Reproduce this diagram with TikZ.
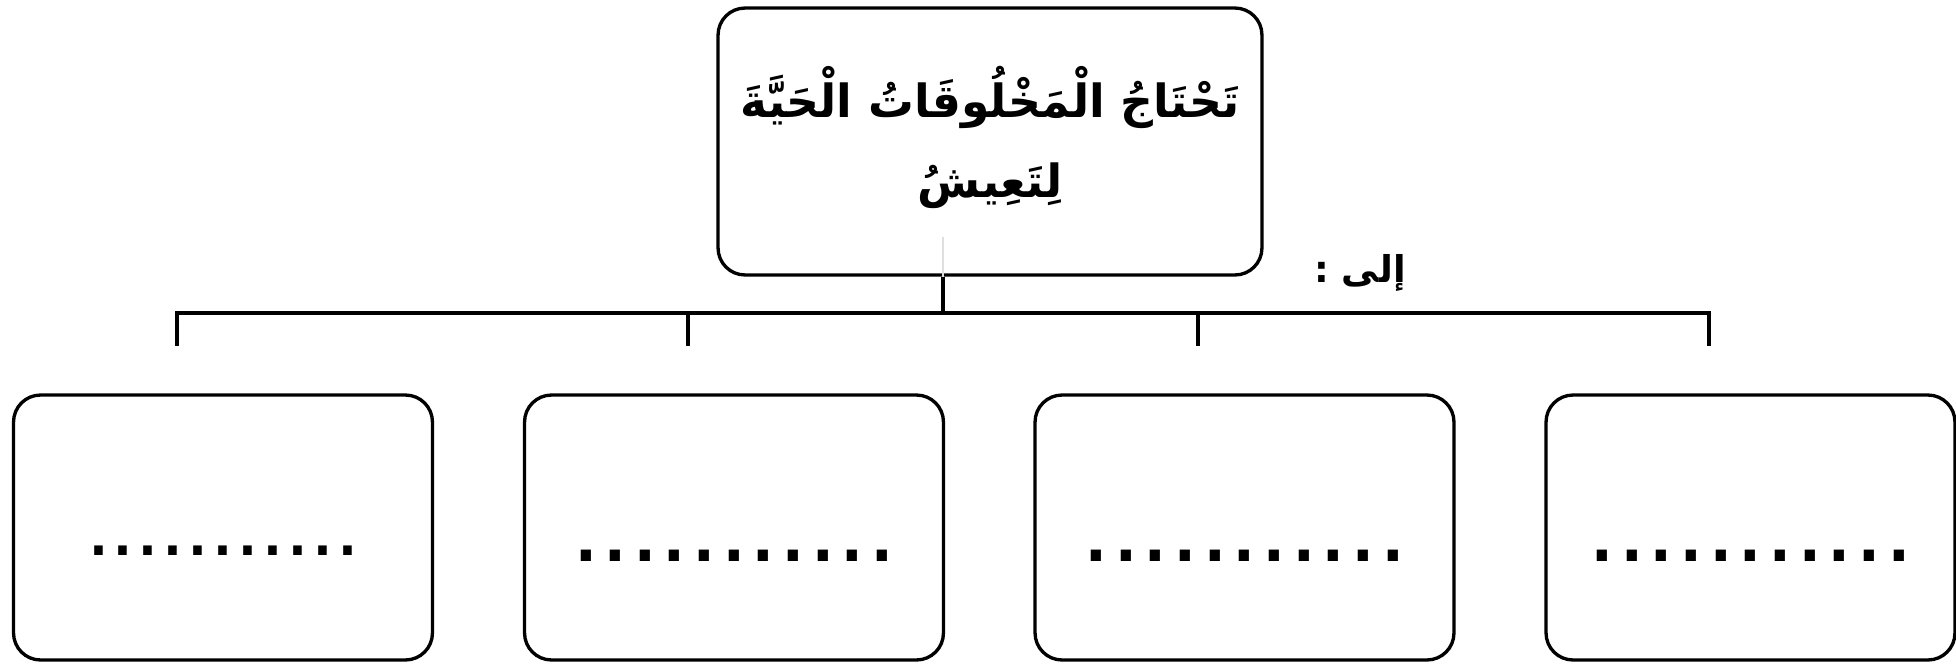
\documentclass[tikz,border=0pt]{standalone}
\usepackage{fontspec}
\setmainfont{Liberation Sans}
\newfontfamily\arabicfont[Script=Arabic]{DejaVu Sans}
\TeXXeTstate=1
\usetikzlibrary{positioning,calc}
\tikzset{box/.style={draw,line width=1.9pt,rounded corners=0.54cm,inner sep=0pt,minimum height=5.3cm},
         wire/.style={line width=1.9pt}}

\begin{document}
\begin{tikzpicture}[x=0.02cm,y=-0.02cm]
    \useasboundingbox (0,0) rectangle (1956,663);
    \node[box,minimum width=10.88cm,minimum height=5.34cm] (Top) at (990,141.5) {};
    \node[anchor=base,inner sep=0pt,font=\arabicfont\bfseries\fontsize{26}{26}\selectfont] (TitleA) at (990,117) {\beginR تَحْتَاجُ الْمَخْلُوقَاتُ الْحَيَّةَ\endR};
    \node[anchor=base,inner sep=0pt,font=\arabicfont\bfseries\fontsize{26}{26}\selectfont] (TitleB) at (990,197) {\beginR لِتَعِيشُ\endR};
    \node[anchor=base,inner sep=0pt,font=\arabicfont\bfseries\fontsize{21}{21}\selectfont] (Ila) at (1360,282) {\beginR إلى :\endR};
    \coordinate (Hub) at (943,313);
    \draw[gray!25,line width=1.5pt] (943,237) -- (Hub |- Top.south);
    \draw[wire] (Top.south -| Hub) -- (Hub);
    \foreach \n/\X/\W/\Y/\S in {1/223/8.38/555/51,2/734/8.38/561/60.7,3/1244.5/8.38/561/60.7,4/1750.5/8.18/561/60.7}
    {
        \node[box,minimum width=\W cm] (Box\n) at (\X,527.5) {};
        \node[anchor=base,inner sep=0pt,font=\fontsize{\S}{\S}\selectfont] (Dots\n) at (\X,\Y) {...........};
    }
    \foreach \n/\X in {1/177,2/688,3/1198,4/1709}
        \coordinate (Drop\n) at (\X,346);
    \draw[wire] (Drop1) -- (Drop1 |- Hub) -- (Drop4 |- Hub) -- (Drop4);
    \draw[wire] (Drop2 |- Hub) -- (Drop2);
    \draw[wire] (Drop3 |- Hub) -- (Drop3);
\end{tikzpicture}
\end{document}
